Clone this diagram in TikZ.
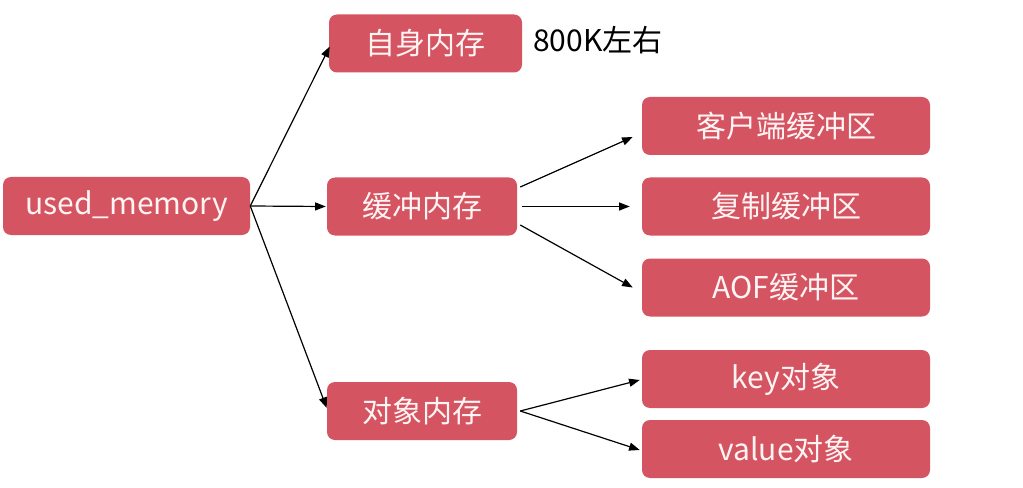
\documentclass[tikz,border=0pt]{standalone}
\usepackage{fontspec}
\setmainfont{Noto Sans CJK SC}
\usetikzlibrary{arrows.meta}
\definecolor{boxred}{RGB}{213,84,97}
\definecolor{boxtext}{RGB}{255,244,244}
\tikzset{
  rbox/.style={draw=none, fill=boxred, rounded corners=6pt, text=boxtext,
    font=\fontsize{22.5}{26}\selectfont, inner sep=0pt, minimum height=#1},
  rbox/.default=43.5pt,
  conn/.style={-{Triangle[length=8pt,width=6pt]}, line width=0.9pt, black}
}
\begin{document}
\begin{tikzpicture}[x=0.75pt,y=-0.75pt]
\useasboundingbox[fill=white] (0,0) rectangle (1023,488);
\node[rbox, minimum width=185.25pt] (um) at (126.5,206) {used\_memory};
\node[rbox, minimum width=144.75pt] (zs) at (425.5,43.5) {自身内存};
\node[rbox, minimum width=142.5pt] (bf) at (422,206.5) {缓冲内存};
\node[rbox, minimum width=142.5pt] (dx) at (422,411) {对象内存};
\node[rbox, minimum width=216pt] (kh) at (786,126) {客户端缓冲区};
\node[rbox, minimum width=216pt] (fz) at (786,206.5) {复制缓冲区};
\node[rbox, minimum width=216pt] (aof) at (786,287.5) {AOF缓冲区};
\node[rbox, minimum width=216pt] (key) at (786,379) {key对象};
\node[rbox, minimum width=216pt] (val) at (786,449) {value对象};
\node[anchor=west, inner sep=0pt, font=\fontsize{22.5}{26}\selectfont] (note) at (533,40) {800K左右};
\draw[conn] (um.east) -- ([shift={(1,3)}]zs.west);
\draw[conn] (um.east) -- ([shift={(-1,0)}]bf.west);
\draw[conn] (um.east) -- ([shift={(0,-3)}]dx.west);
\draw[conn] ([shift={(3,-19.5)}]bf.east) -- ([shift={(-9,11)}]kh.west);
\draw[conn] ([shift={(5,0)}]bf.east) -- ([shift={(-12,0)}]fz.west);
\draw[conn] ([shift={(3,18.5)}]bf.east) -- ([shift={(-9,0)}]aof.west);
\draw[conn] ([shift={(3,0)}]dx.east) -- ([shift={(-2,1)}]key.west);
\draw[conn] ([shift={(3,0)}]dx.east) -- ([shift={(-2,1)}]val.west);
\end{tikzpicture}
\end{document}
